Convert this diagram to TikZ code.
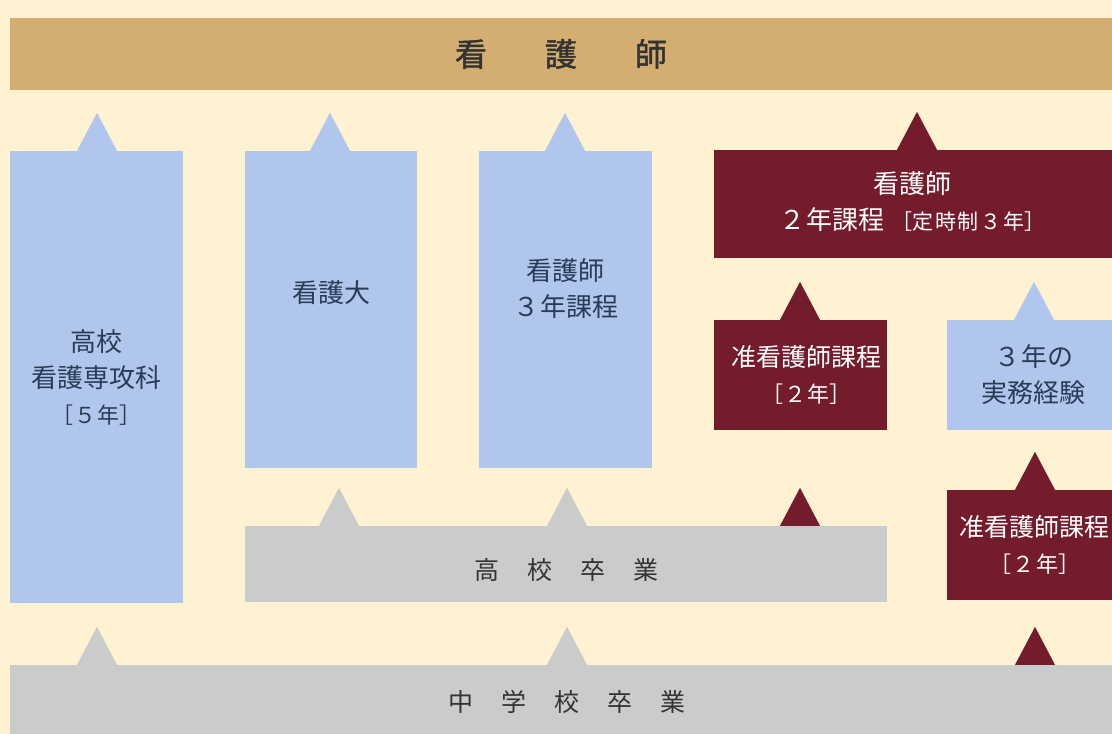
\documentclass[tikz,border=0pt]{standalone}
\usepackage{fontspec}
\newfontfamily\jp{Noto Sans CJK JP}
\newfontfamily\jpb[FakeBold=1.5]{Noto Sans CJK JP}
\definecolor{bg}{HTML}{FEF2D3}
\definecolor{tan}{HTML}{D4AE70}
\definecolor{lblue}{HTML}{B1C6EC}
\definecolor{dred}{HTML}{741C2C}
\definecolor{lgray}{HTML}{CACCCC}
\definecolor{navy}{HTML}{2A3B58}
\definecolor{dtext}{HTML}{333333}
\tikzset{
  x=1pt, y=-1pt,
  box/.style={rectangle, inner sep=0pt, draw=none},
  bluebox/.style={box, fill=lblue},
  redbox/.style={box, fill=dred},
  graybox/.style={box, fill=lgray},
  bluetxt/.style={text=navy, font=\jp\fontsize{26}{36}\selectfont, align=center, inner sep=0pt},
  redtxt/.style={text=white, font=\jp\fontsize{26}{36}\selectfont, align=center, inner sep=0pt},
  junredtxt/.style={text=white, font=\jp\fontsize{25}{36}\selectfont, align=center, inner sep=0pt},
  graytxt/.style={text=dtext, font=\jp\fontsize{25}{36}\selectfont, align=center, inner sep=0pt},
}
\newcommand{\tri}[3]{\fill[#1] ([xshift=#2pt]#3) -- ++(-20,0) -- ++(20,-38) -- ++(20,38) -- cycle;}
\newcommand{\dg}[1]{\kern1.5pt#1\kern1.5pt}
\begin{document}
\begin{tikzpicture}
\fill[bg] (0,0) rectangle (1112,734);
\useasboundingbox (0,0) rectangle (1112,734);
% boxes
\node[box, fill=tan, minimum width=1102pt, minimum height=72pt] (top) at (561,54) {};
\node[bluebox, minimum width=173pt, minimum height=452pt] (hs5) at (96.5,377) {};
\node[bluebox, minimum width=172pt, minimum height=317pt] (univ) at (331,309.5) {};
\node[bluebox, minimum width=173pt, minimum height=317pt] (three) at (565.5,309.5) {};
\node[redbox, minimum width=398pt, minimum height=108pt] (two) at (913,204) {};
\node[redbox, minimum width=173pt, minimum height=110pt] (jun1) at (800.5,375) {};
\node[bluebox, minimum width=165pt, minimum height=110pt] (exp) at (1029.5,375) {};
\node[redbox, minimum width=165pt, minimum height=110pt] (jun2) at (1029.5,545) {};
\node[graybox, minimum width=642pt, minimum height=76pt] (hsg) at (566,564) {};
\node[graybox, minimum width=1102pt, minimum height=69pt] (jhg) at (561,699.5) {};
% triangles (arrows)
\tri{lblue}{0.5}{hs5.north}
\tri{lblue}{-1}{univ.north}
\tri{lblue}{-0.5}{three.north}
\tri{dred}{4}{two.north}
\tri{dred}{-0.5}{jun1.north}
\tri{lblue}{4.5}{exp.north}
\tri{dred}{5.5}{jun2.north}
\tri{lgray}{-227}{hsg.north}
\tri{lgray}{1}{hsg.north}
\tri{dred}{234}{hsg.north}
\tri{lgray}{-464}{jhg.north}
\tri{lgray}{6}{jhg.north}
\tri{dred}{474}{jhg.north}
% texts
\node[text=dtext, font=\jpb\fontsize{32}{36}\selectfont, inner sep=0pt] (ttop) at (top.center) {看\hspace{58pt}護\hspace{58pt}師};
\node[bluetxt] (ths5) at ([yshift=-1pt]hs5.center) {高校\\看護専攻科\\{\fontsize{22}{36}\selectfont［\dg{５}年］}};
\node[bluetxt] (tuniv) at ([yshift=17pt]univ.center) {看護大};
\node[bluetxt] (tthree) at ([yshift=21pt]three.center) {看護師\\\dg{３}年課程};
\node[redtxt] (ttwo) at ([xshift=-1pt,yshift=2pt]two.center) {看護師\\\dg{２}年課程\hspace{6pt}{\fontsize{21}{36}\selectfont［定\kern2pt時\kern2pt制\kern2pt３\kern2pt年］}};
\node[junredtxt] (tjun1) at ([xshift=6pt]jun1.center) {准看護師課程\\{\fontsize{22}{36}\selectfont［\dg{２}年］}};
\node[bluetxt] (texp) at ([xshift=4pt]exp.center) {\dg{３}年の\\実務経験};
\node[junredtxt] (tjun2) at ([xshift=5pt]jun2.center) {准看護師課程\\{\fontsize{22}{36}\selectfont［\dg{２}年］}};
\node[graytxt] (thsg) at ([xshift=0pt,yshift=-6pt]hsg.center) {高\hspace{28pt}校\hspace{28pt}卒\hspace{28pt}業};
\node[graytxt] (tjhg) at ([xshift=6pt,yshift=-2pt]jhg.center) {中\hspace{28pt}学\hspace{28pt}校\hspace{28pt}卒\hspace{28pt}業};
\end{tikzpicture}
\end{document}
